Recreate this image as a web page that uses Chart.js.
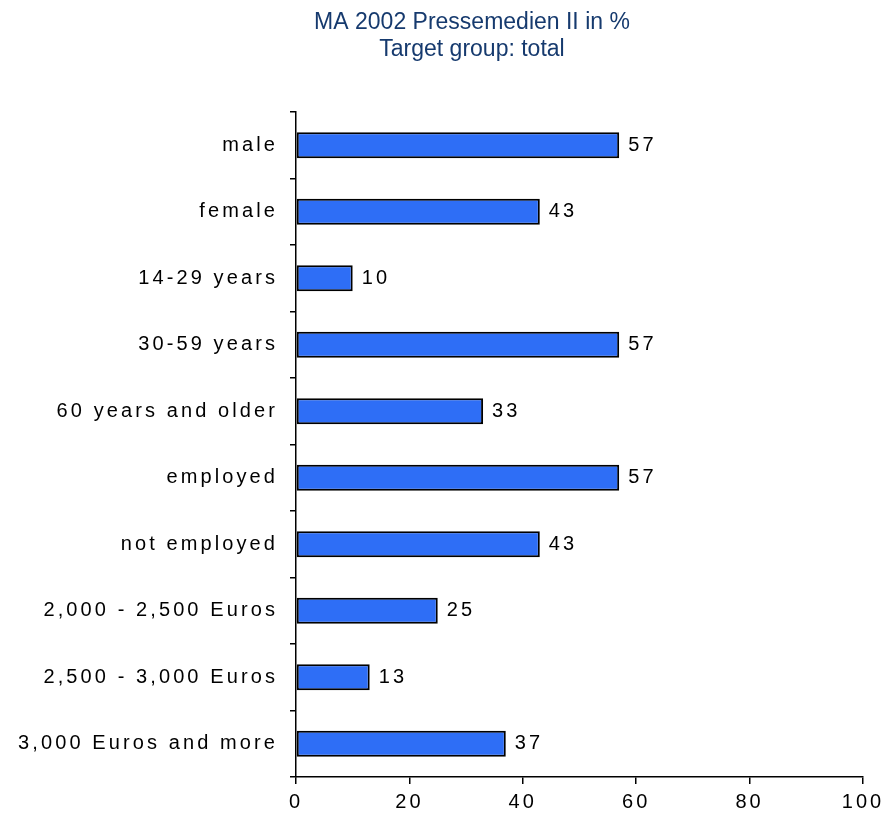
<!DOCTYPE html>
<html>
<head>
<meta charset="utf-8">
<script src="https://cdn.jsdelivr.net/npm/chart.js@4.4.1/dist/chart.umd.min.js"></script>
<style>
  html, body { margin: 0; padding: 0; background: #fff; }
  #wrap { position: relative; width: 884px; height: 824px; }
</style>
</head>
<body>
<div id="wrap"><canvas id="chart"></canvas></div>
<script>
const categories = [
  "male",
  "female",
  "14-29 years",
  "30-59 years",
  "60 years and older",
  "employed",
  "not employed",
  "2,000 - 2,500 Euros",
  "2,500 - 3,000 Euros",
  "3,000 Euros and more",
];
const shares = [57, 43, 10, 57, 33, 57, 43, 25, 13, 37];
const titleLines = ["MA 2002 Pressemedien II in %", "Target group: total"];
const xTicks = { min: 0, max: 100, step: 20 };

const FONT = "'Liberation Sans', Arial, sans-serif";
const SPACING = "3.1px";

// canvas text spacing, chart.js does not set it itself
const spacingPlugin = {
  id: "spacing",
  beforeLayout(chart) { chart.ctx.letterSpacing = SPACING; },
  beforeDraw(chart) { chart.ctx.letterSpacing = SPACING; },
};

const titlePlugin = {
  id: "twoLineTitle",
  afterDraw(chart) {
    const ctx = chart.ctx;
    ctx.save();
    ctx.letterSpacing = "0px";
    ctx.font = "23px " + FONT;
    ctx.fillStyle = "#163A6E";
    ctx.textAlign = "center";
    ctx.textBaseline = "middle";
    ctx.fillText(titleLines[0], 472, 23);
    ctx.fillText(titleLines[1], 472, 50);
    ctx.restore();
  },
};

const valueLabels = {
  id: "valueLabels",
  afterDatasetsDraw(chart) {
    const ctx = chart.ctx;
    const meta = chart.getDatasetMeta(0);
    ctx.save();
    ctx.letterSpacing = SPACING;
    ctx.font = "20px " + FONT;
    ctx.fillStyle = "#000";
    ctx.textAlign = "left";
    ctx.textBaseline = "middle";
    meta.data.forEach((bar, i) => {
      ctx.fillText(String(shares[i]), bar.x + 9, bar.y);
    });
    ctx.restore();
  },
};

new Chart(document.getElementById("chart"), {
  type: "bar",
  data: {
    labels: categories,
    datasets: [
      {
        data: shares,
        backgroundColor: "#2E6EF6",
        borderColor: "#000",
        borderWidth: 2,
        borderSkipped: false,
        barPercentage: 0.39,
        categoryPercentage: 1,
      },
    ],
  },
  options: {
    indexAxis: "y",
    responsive: true,
    maintainAspectRatio: false,
    animation: false,
    layout: {
      padding: { top: 112, bottom: 4, left: 0, right: 0 },
    },
    plugins: {
      legend: { display: false },
      title: { display: false },
      tooltip: { enabled: false },
    },
    scales: {
      x: {
        min: xTicks.min,
        max: xTicks.max,
        border: { color: "#000", width: 1.5 },
        grid: {
          drawOnChartArea: false,
          drawTicks: true,
          tickLength: 7,
          color: "#000",
          lineWidth: 1.5,
        },
        ticks: {
          stepSize: xTicks.step,
          padding: 6,
          color: "#000",
          font: { family: FONT, size: 20 },
        },
        afterFit(scale) {
          scale.paddingRight = 21;
        },
      },
      y: {
        border: { color: "#000", width: 1.5 },
        grid: {
          drawOnChartArea: false,
          drawTicks: true,
          tickLength: 6,
          color: "#000",
          lineWidth: 1.5,
          offset: true,
        },
        ticks: {
          padding: 12,
          color: "#000",
          font: { family: FONT, size: 20 },
        },
        afterFit(scale) {
          scale.width = 296;
        },
      },
    },
  },
  plugins: [spacingPlugin, titlePlugin, valueLabels],
});
</script>
</body>
</html>
